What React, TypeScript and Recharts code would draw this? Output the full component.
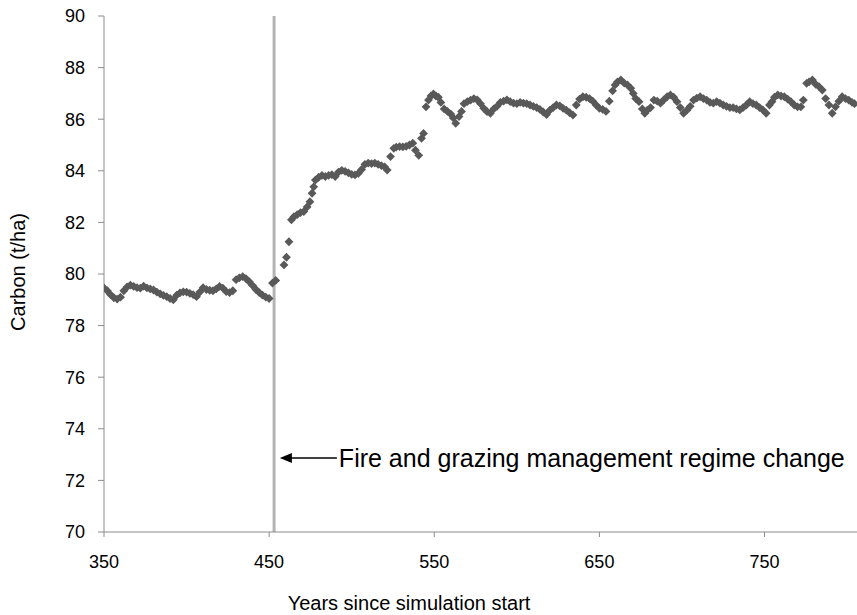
import { ScatterChart, Scatter, XAxis, YAxis, ReferenceLine, ReferenceDot } from "recharts";

// years since simulation start (x) and carbon in t/ha (y)
const years = [
  350, 352, 354, 356, 358, 360, 362, 364, 366, 368, 370, 372, 374, 376, 378, 380, 382, 384, 386, 388,
  390, 392, 394, 396, 398, 400, 402, 404, 406, 408, 410, 412, 414, 416, 418, 420, 422, 424, 426, 428,
  430, 432, 434, 436, 438, 440, 442, 444, 446, 448, 450, 452, 454,
  459, 460.5, 462, 463.5, 465, 467, 469, 471, 473, 474.7, 476, 477, 478,
  480, 482, 484, 486, 488, 490, 492, 494, 496, 498, 500, 502, 504, 506, 508, 510, 512, 514, 516, 518,
  520, 521.5, 523.5, 525.5, 527, 529, 531, 533, 535, 537, 538.6, 540.6, 542.3, 543.5, 545, 546.5, 548, 549.5,
  551, 552.5, 554, 556, 558, 560, 561.5, 563, 565, 566.5, 568, 570, 572, 574, 576, 578, 580, 582, 584, 586,
  588, 590, 592, 594, 596, 598, 600, 602, 604, 606, 608, 610, 612, 614, 616, 618, 620, 622, 624, 626,
  628, 630, 632, 634, 636, 638, 640, 642, 644, 646, 648, 650, 652, 654, 656, 658, 659.5, 661, 663, 665,
  667, 669, 670.5, 672, 674, 676, 677.5, 679, 681, 683, 685, 687, 689, 691, 693, 695, 697, 699, 701, 703,
  705, 707, 709, 711, 713, 715, 717, 719, 721, 723, 725, 727, 729, 731, 733, 735, 737, 739, 741, 743,
  745, 747, 749, 751, 753, 754.5, 756, 758, 760, 762, 764, 766, 768, 770, 772, 773.5, 775.5, 777, 779, 781,
  783, 785, 787, 789, 791, 793, 795, 797, 799, 801, 803, 804.5,
];

const carbon = [
  79.46, 79.35, 79.2, 79.08, 79.03, 79.1, 79.35, 79.5, 79.57, 79.52, 79.47, 79.45, 79.53, 79.46, 79.42, 79.38, 79.3, 79.23, 79.17, 79.12,
  79.05, 79.0, 79.18, 79.27, 79.31, 79.3, 79.25, 79.2, 79.12, 79.3, 79.47, 79.4, 79.37, 79.35, 79.42, 79.52, 79.45, 79.32, 79.28, 79.35,
  79.78, 79.85, 79.9, 79.82, 79.7, 79.55, 79.4, 79.28, 79.18, 79.1, 79.05, 79.65, 79.75,
  80.35, 80.65, 81.25, 82.1, 82.22, 82.3, 82.38, 82.42, 82.6, 82.8, 83.13, 83.38, 83.64,
  83.75, 83.82, 83.78, 83.82, 83.85, 83.78, 83.95, 84.02, 83.98, 83.92, 83.86, 83.84, 83.9, 84.05, 84.25, 84.3, 84.28, 84.3, 84.25, 84.2,
  84.15, 84.03, 84.55, 84.87, 84.92, 84.94, 84.93, 84.95, 85.0, 85.07, 84.8, 84.6, 85.26, 85.45, 86.48, 86.74, 86.9, 86.98,
  86.9, 86.85, 86.65, 86.4, 86.3, 86.2, 86.05, 85.84, 86.1, 86.3, 86.6, 86.68, 86.74, 86.8, 86.75, 86.6, 86.42, 86.29, 86.23, 86.4,
  86.5, 86.65, 86.7, 86.75, 86.68, 86.62, 86.6, 86.65, 86.62, 86.6, 86.55, 86.5, 86.45, 86.38, 86.28, 86.18, 86.35, 86.45, 86.55, 86.52,
  86.42, 86.35, 86.25, 86.16, 86.55, 86.78, 86.87, 86.85, 86.8, 86.7, 86.55, 86.42, 86.38, 86.3, 86.7, 87.1, 87.33, 87.45, 87.52, 87.4,
  87.33, 87.2, 87.0, 86.8, 86.68, 86.4, 86.23, 86.35, 86.45, 86.74, 86.7, 86.62, 86.75, 86.87, 86.94, 86.85, 86.68, 86.45, 86.23, 86.35,
  86.5, 86.74, 86.82, 86.87, 86.8, 86.74, 86.65, 86.62, 86.68, 86.62, 86.55, 86.5, 86.45, 86.45, 86.4, 86.36, 86.45, 86.55, 86.68, 86.6,
  86.55, 86.45, 86.36, 86.23, 86.55, 86.68, 86.85, 86.94, 86.9, 86.87, 86.78, 86.68, 86.55, 86.48, 86.48, 86.74, 87.39, 87.45, 87.52, 87.35,
  87.26, 87.13, 86.8, 86.55, 86.23, 86.48, 86.7, 86.87, 86.8, 86.74, 86.65, 86.6,
];

const xTicks = [350, 450, 550, 650, 750];
const yTicks = [70, 72, 74, 76, 78, 80, 82, 84, 86, 88, 90];
const regimeChangeYear = 453;
const annotationText = "Fire and grazing management regime change";

const points = years.map((year, i) => ({ year, carbon: carbon[i] }));

const FONT = "'Liberation Sans', Arial, sans-serif";

const Diamond = (props: any) => {
  const { cx, cy } = props;
  const r = 4.4;
  return (
    <polygon
      points={`${cx},${cy - r} ${cx + r},${cy} ${cx},${cy + r} ${cx - r},${cy}`}
      fill="#595959"
    />
  );
};

const Annotation = (props: any) => {
  const { cx, cy } = props;
  return (
    <g>
      <line x1={cx + 10} y1={cy} x2={cx + 57} y2={cy} stroke="#000" strokeWidth={1.5} />
      <polygon points={`${cx},${cy} ${cx + 12},${cy - 5} ${cx + 12},${cy + 5}`} fill="#000" />
      <text x={cx + 59} y={cy} dy="0.36em" fontSize={25} fontFamily={FONT} fill="#000">
        {annotationText}
      </text>
    </g>
  );
};

const App = () => {
  return (
    <div style={{ position: "absolute", left: 0, top: 0, width: 857, height: 615, background: "#fff" }}>
      <ScatterChart width={857} height={615} margin={{ top: 16, right: 0, bottom: 0, left: 0 }}>
        <XAxis
          type="number"
          dataKey="year"
          domain={[350, 806]}
          ticks={xTicks}
          allowDataOverflow
          height={83}
          stroke="#8c8c8c"
          tickSize={5}
          tickMargin={18}
          tick={{ fill: "#000", fontSize: 18, fontFamily: FONT }}
          label={{
            content: () => (
              <text x={409} y={603} dy="0.36em" textAnchor="middle" fontSize={20} fontFamily={FONT} fill="#000">
                Years since simulation start
              </text>
            ),
          }}
        />
        <YAxis
          type="number"
          dataKey="carbon"
          domain={[70, 90]}
          ticks={yTicks}
          width={104}
          stroke="#8c8c8c"
          tickSize={6}
          tickMargin={13}
          tick={{ fill: "#000", fontSize: 18, fontFamily: FONT }}
          label={{
            content: () => (
              <text
                x={18}
                y={272}
                dy="0.36em"
                textAnchor="middle"
                transform="rotate(-90 18 272)"
                fontSize={20}
                fontFamily={FONT}
                fill="#000"
              >
                Carbon (t/ha)
              </text>
            ),
          }}
        />
        <ReferenceLine x={regimeChangeYear} stroke="#b3b3b3" strokeWidth={3} />
        <Scatter data={points} shape={<Diamond />} isAnimationActive={false} />
        <ReferenceDot x={456.5} y={72.87} r={0} shape={<Annotation />} />
      </ScatterChart>
    </div>
  );
};

export default App;
